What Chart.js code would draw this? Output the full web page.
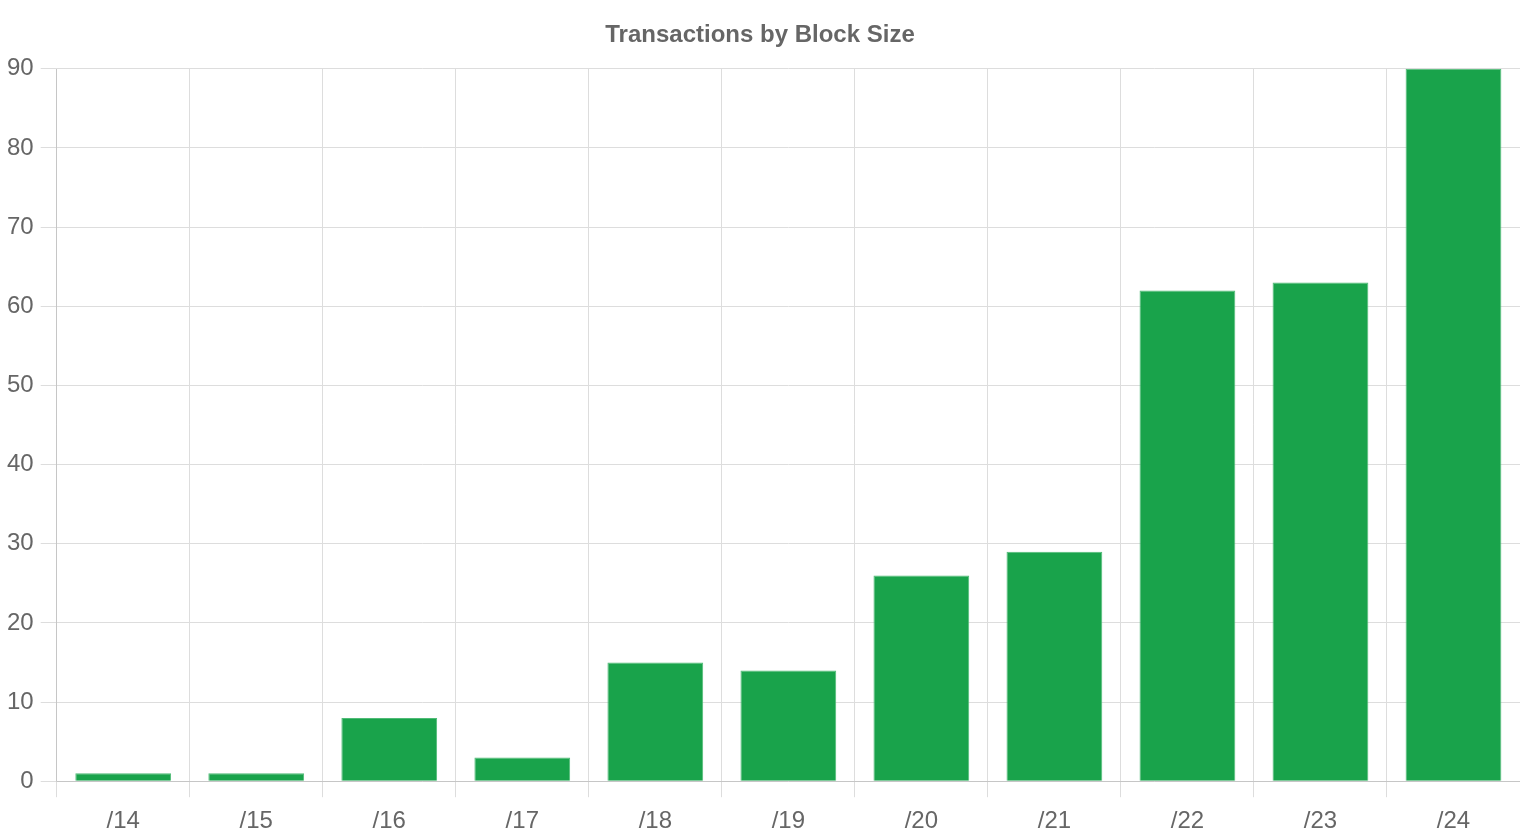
<!DOCTYPE html>
<html>
<head>
<meta charset="utf-8">
<script src="https://cdn.jsdelivr.net/npm/chart.js@4"></script>
<style>
  html, body { margin: 0; padding: 0; background: #fff; }
  #wrap { width: 1520px; height: 840px; }
</style>
</head>
<body>
<div id="wrap"><canvas id="blockChart"></canvas></div>
<script>
// block sizes and transaction counts
const blockSizes = ['/14', '/15', '/16', '/17', '/18', '/19', '/20', '/21', '/22', '/23', '/24'];
const txCounts = [1, 1, 8, 3, 15, 14, 26, 29, 62, 63, 90];

Chart.defaults.font.family = '"Liberation Sans", Arial, sans-serif';
Chart.defaults.color = '#666';

const ctx = document.getElementById('blockChart').getContext('2d');
const blockChart = new Chart(ctx, {
    type: 'bar',
    data: {
        labels: blockSizes,
        datasets: [{
            label: 'Transactions',
            data: txCounts,
            backgroundColor: '#19a34b',
            borderColor: '#4fbb76',
            borderWidth: 1
        }]
    },
    options: {
        responsive: true,
        maintainAspectRatio: false,
        animation: false,
        layout: { padding: { left: 0, bottom: -6, right: 0, top: 1 } },
        scales: {
            x: {
                grid: { color: '#ddd', tickLength: 16 },
                ticks: { font: { size: 24 }, padding: 10 }
            },
            y: {
                beginAtZero: true,
                max: 90,
                grid: { color: '#ddd', tickLength: 16 },
                ticks: { stepSize: 10, font: { size: 24 }, padding: 7 }
            }
        },
        plugins: {
            legend: { display: false },
            title: {
                display: true,
                text: 'Transactions by Block Size',
                font: { size: 24, weight: 'bold' },
                color: '#666',
                padding: { top: 20, bottom: 19 }
            }
        }
    }
});
</script>
</body>
</html>
